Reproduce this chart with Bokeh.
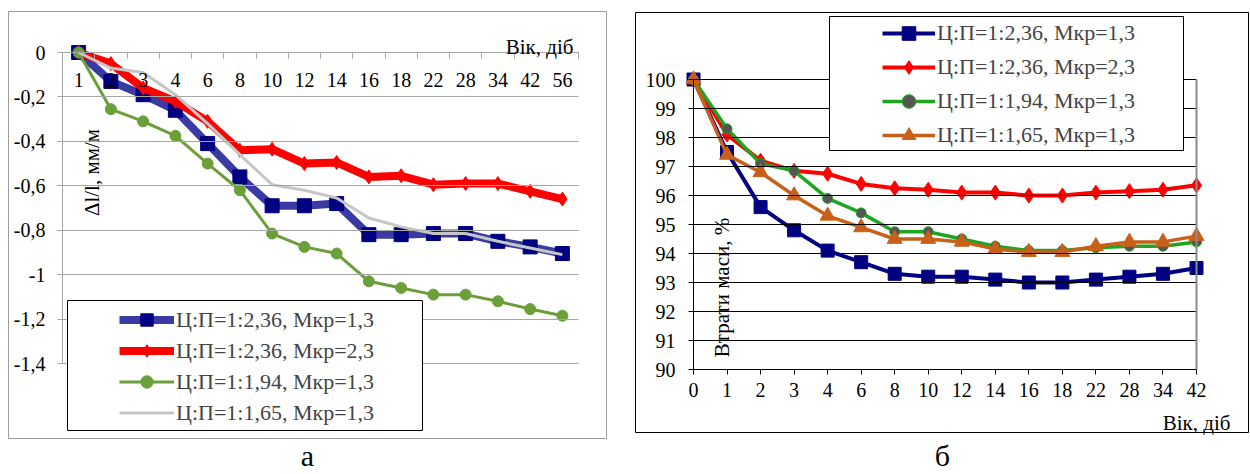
import math
import numpy as np
from bokeh.plotting import figure
from bokeh.layouts import row
from bokeh.models import (Range1d, FixedTicker, CustomJSTickFormatter, Legend, LegendItem,
                          BoxAnnotation, Label, LinearAxis)
from bokeh.core.properties import value
from bokeh.embed import file_html
from bokeh.resources import INLINE

FONT = "Liberation Serif, Times New Roman, serif"

# ---------------- data: panel а ----------------
cats_a = ["1", "2", "3", "4", "6", "8", "10", "12", "14", "16", "18", "22", "28", "34", "42", "56"]
a_blue = [0, -0.13, -0.19, -0.26, -0.41, -0.56, -0.69, -0.69, -0.68, -0.82, -0.82, -0.815, -0.815, -0.85, -0.875, -0.905]
a_red = [0, -0.05, -0.16, -0.22, -0.31, -0.44, -0.435, -0.50, -0.495, -0.56, -0.555, -0.595, -0.59, -0.59, -0.625, -0.66]
a_green = [0, -0.255, -0.31, -0.375, -0.50, -0.62, -0.815, -0.875, -0.905, -1.03, -1.06, -1.09, -1.09, -1.12, -1.155, -1.185]
a_gray = [0, -0.07, -0.09, -0.19, -0.32, -0.46, -0.595, -0.62, -0.655, -0.745, -0.785, -0.815, -0.815, -0.85, -0.88, -0.91]
ticks_a = [0.0, -0.2, -0.4, -0.6, -0.8, -1.0, -1.2, -1.4]

# ---------------- data: panel б ----------------
cats_b = ["0", "1", "2", "3", "4", "6", "8", "10", "12", "14", "16", "18", "22", "28", "34", "42"]
b_blue = [100, 97.5, 95.6, 94.8, 94.1, 93.7, 93.3, 93.2, 93.2, 93.1, 93.0, 93.0, 93.1, 93.2, 93.3, 93.5]
b_red = [100, 98.1, 97.2, 96.85, 96.75, 96.4, 96.25, 96.2, 96.1, 96.1, 96.0, 96.0, 96.1, 96.15, 96.2, 96.35]
b_green = [100, 98.3, 97.1, 96.85, 95.9, 95.4, 94.75, 94.75, 94.5, 94.25, 94.1, 94.1, 94.2, 94.25, 94.25, 94.4]
b_orange = [100, 97.4, 96.8, 96.0, 95.3, 94.9, 94.5, 94.5, 94.4, 94.15, 94.05, 94.05, 94.25, 94.4, 94.4, 94.6]
ticks_b = [90, 91, 92, 93, 94, 95, 96, 97, 98, 99, 100]

series_labels = ["Ц:П=1:2,36, Мкр=1,3", "Ц:П=1:2,36, Мкр=2,3",
                 "Ц:П=1:1,94, Мкр=1,3", "Ц:П=1:1,65, Мкр=1,3"]

H = 474

# ================= panel а =================
na = len(cats_a)
a_lo, a_hi = min(ticks_a), max(ticks_a)
AW = 620
A_BOX = (8, 11, 606, 438)          # chart-area border (page px)
A_PLOT = (62, 52, 578, 363)        # plot area: x of category block, y of 0 and -1.4


def ax(px):
    return (px - A_PLOT[0]) / (A_PLOT[2] - A_PLOT[0]) * na


def ay(py):
    return a_hi - (py - A_PLOT[1]) / (A_PLOT[3] - A_PLOT[1]) * (a_hi - a_lo)


p1 = figure(width=AW, height=H,
            x_range=Range1d(ax(0), ax(AW)), y_range=Range1d(ay(H), ay(0)),
            x_axis_location="above", y_axis_location="left", min_border=0,
            output_backend="svg", toolbar_location=None)
p1.outline_line_color = None
p1.background_fill_color = "white"
p1.border_fill_color = "white"
p1.xgrid.visible = False
p1.ygrid.visible = False

GRAYAX = "#a6a6a6"
xa = p1.xaxis[0]
xa.fixed_location = a_hi
xa.bounds = (0, na)
xa.ticker = FixedTicker(ticks=list(range(na + 1)))
xa.formatter = CustomJSTickFormatter(code="return ''")
xa.major_label_text_color = None
xa.axis_line_color = GRAYAX
xa.major_tick_line_color = GRAYAX
xa.major_tick_in = 6
xa.major_tick_out = 0
xa.minor_tick_line_color = None

ya = p1.yaxis[0]
ya.fixed_location = 0
ya.bounds = (a_lo, a_hi)
ya.ticker = FixedTicker(ticks=ticks_a)
ya.formatter = CustomJSTickFormatter(code="return (Math.round(tick*10)/10).toString().replace('.', ',')")
ya.axis_line_color = GRAYAX
ya.major_tick_line_color = GRAYAX
ya.major_tick_in = A_PLOT[2] - A_PLOT[0]   # ticks run across the plot as gridlines
ya.major_tick_out = 5
ya.minor_tick_line_color = None
ya.major_label_standoff = 12
ya.major_label_text_font = FONT
ya.major_label_text_font_size = "20px"
ya.major_label_text_color = "black"

# chart-area border
p1.add_layout(BoxAnnotation(left=ax(A_BOX[0]), right=ax(A_BOX[2]), top=ay(A_BOX[1]), bottom=ay(A_BOX[3]),
                            fill_color=None, fill_alpha=0, line_color="#9c9c9c", line_alpha=1, line_width=1,
                            level="underlay"))

xs_a = np.arange(na) + 0.5
l1 = p1.line(xs_a, a_blue, line_color="#3a3aa3", line_width=8, line_join="round")
m1 = p1.scatter(xs_a, a_blue, marker="square", size=14, fill_color="#000080", line_color="#000080")
l2 = p1.line(xs_a, a_red, line_color="#ff0000", line_width=8, line_join="round")
m2 = p1.scatter(xs_a, a_red, marker="diamond", size=14, fill_color="#ff0000", line_color="#ff0000")
l3 = p1.line(xs_a, a_green, line_color="#6b9f3a", line_width=3, line_join="round")
m3 = p1.scatter(xs_a, a_green, marker="circle", size=11, fill_color="#6b9f3a", line_color="#6b9f3a")
l4 = p1.line(xs_a, a_gray, line_color="#c6c6c6", line_width=3, line_join="round")

# category labels under the top axis
p1.text(x=xs_a, y=[ay(79)] * na, text=cats_a, text_font=value(FONT), text_font_size="20px",
        text_align="center", text_baseline="middle", text_color="black")

p1.add_layout(Label(x=ax(573), y=ay(46), text="Вік, діб", text_align="right", text_baseline="alphabetic",
                    text_font=FONT, text_font_size="21px", text_color="black"))
p1.add_layout(Label(x=ax(91), y=ay(172), text="Δl/l, мм/м", angle=math.pi / 2, text_align="center",
                    text_baseline="middle", text_font=FONT, text_font_size="21px", text_color="black"))
p1.add_layout(Label(x=ax(307), y=ay(455), text="а", text_align="center", text_baseline="middle",
                    text_font=FONT, text_font_size="30px", text_color="black"))

# legend box + legend
p1.add_layout(BoxAnnotation(left=ax(67), right=ax(422), top=ay(300), bottom=ay(430),
                            fill_color="white", fill_alpha=1, line_color="black", line_alpha=1, line_width=1))
leg1 = Legend(items=[LegendItem(label=series_labels[0], renderers=[l1, m1]),
                     LegendItem(label=series_labels[1], renderers=[l2, m2]),
                     LegendItem(label=series_labels[2], renderers=[l3, m3]),
                     LegendItem(label=series_labels[3], renderers=[l4])],
              location=(119, H - 428), padding=0, margin=0, spacing=0,
              glyph_width=55, glyph_height=31, label_height=31, label_standoff=2,
              label_text_font=FONT, label_text_font_size="22px",
              border_line_color=None, background_fill_color=None)
p1.add_layout(leg1)

# ================= panel б =================
nb = len(cats_b)
b_lo, b_hi = min(ticks_b), max(ticks_b)
BX0 = AW                                  # page x where panel б starts
BW = 630
B_BOX = (635, 12, 1248, 432)
B_PLOT = (693, 79, 1196, 369)


def bx(gx):
    return (gx - B_PLOT[0]) / (B_PLOT[2] - B_PLOT[0]) * (nb - 1)


def by(py):
    return b_hi - (py - B_PLOT[1]) / (B_PLOT[3] - B_PLOT[1]) * (b_hi - b_lo)


p2 = figure(width=BW, height=H,
            x_range=Range1d(bx(BX0), bx(BX0 + BW)), y_range=Range1d(by(H), by(0)),
            x_axis_location="below", y_axis_location="left", min_border=0,
            output_backend="svg", toolbar_location=None)
p2.outline_line_color = None
p2.background_fill_color = "white"
p2.border_fill_color = "white"
p2.xgrid.visible = False
p2.ygrid.visible = False

xb = p2.xaxis[0]
xb.fixed_location = b_lo
xb.bounds = (0, nb - 1)
xb.ticker = FixedTicker(ticks=list(range(nb)))
xb.major_label_overrides = {i: c for i, c in enumerate(cats_b)}
xb.axis_line_color = "black"
xb.major_tick_line_color = "black"
xb.major_tick_in = 0
xb.major_tick_out = 5
xb.minor_tick_line_color = None
xb.major_label_standoff = 8
xb.major_label_text_font = FONT
xb.major_label_text_font_size = "20px"
xb.major_label_text_color = "black"

yb = p2.yaxis[0]
yb.fixed_location = 0
yb.bounds = (b_lo, b_hi)
yb.ticker = FixedTicker(ticks=ticks_b)
yb.axis_line_color = "black"
yb.major_tick_line_color = "black"
yb.major_tick_in = B_PLOT[2] - B_PLOT[0]   # ticks run across the plot as gridlines
yb.major_tick_out = 5
yb.minor_tick_line_color = None
yb.major_label_standoff = 13
yb.major_label_text_font = FONT
yb.major_label_text_font_size = "20px"
yb.major_label_text_color = "black"

# grey right edge of the plot area
edge = LinearAxis(fixed_location=nb - 1, bounds=(b_lo, b_hi), ticker=FixedTicker(ticks=[]),
                  axis_line_color="#8c8c8c", axis_line_width=2,
                  major_tick_line_color=None, minor_tick_line_color=None,
                  major_label_text_color=None)
p2.add_layout(edge, "right")

# chart-area border
p2.add_layout(BoxAnnotation(left=bx(B_BOX[0]), right=bx(B_BOX[2]), top=by(B_BOX[1]), bottom=by(B_BOX[3]),
                            fill_color=None, fill_alpha=0, line_color="black", line_alpha=1, line_width=1,
                            level="underlay"))

xs_b = np.arange(nb)
k1 = p2.line(xs_b, b_blue, line_color="#000080", line_width=4, line_join="round")
n1 = p2.scatter(xs_b, b_blue, marker="square", size=13, fill_color="#000080", line_color="#000080")
k2 = p2.line(xs_b, b_red, line_color="#ff0000", line_width=4, line_join="round")
n2 = p2.scatter(xs_b, b_red, marker="diamond", size=15, fill_color="#ff0000", line_color="#ff0000")
k3 = p2.line(xs_b, b_green, line_color="#1fa51f", line_width=3.5, line_join="round")
n3 = p2.scatter(xs_b, b_green, marker="circle", size=10, fill_color="#555555", line_color="#1fa51f")
k4 = p2.line(xs_b, b_orange, line_color="#c8601a", line_width=3.5, line_join="round")
n4 = p2.scatter(xs_b, b_orange, marker="triangle", size=15, fill_color="#c8601a", line_color="#c8601a")

p2.add_layout(Label(x=bx(1230), y=by(422), text="Вік, діб", text_align="right", text_baseline="alphabetic",
                    text_font=FONT, text_font_size="21px", text_color="black"))
p2.add_layout(Label(x=bx(721), y=by(287), text="Втрати маси, %", angle=math.pi / 2, text_align="center",
                    text_baseline="middle", text_font=FONT, text_font_size="21px", text_color="black"))
p2.add_layout(Label(x=bx(942), y=by(455), text="б", text_align="center", text_baseline="middle",
                    text_font=FONT, text_font_size="30px", text_color="black"))

p2.add_layout(BoxAnnotation(left=bx(829), right=bx(1183), top=by(16), bottom=by(150),
                            fill_color="white", fill_alpha=1, line_color="black", line_alpha=1, line_width=1))
leg2 = Legend(items=[LegendItem(label=series_labels[0], renderers=[k1, n1]),
                     LegendItem(label=series_labels[1], renderers=[k2, n2]),
                     LegendItem(label=series_labels[2], renderers=[k3, n3]),
                     LegendItem(label=series_labels[3], renderers=[k4, n4])],
              location=(882 - BX0, H - 152), padding=0, margin=0, spacing=0,
              glyph_width=53, glyph_height=34, label_height=34, label_standoff=2,
              label_text_font=FONT, label_text_font_size="22px",
              border_line_color=None, background_fill_color=None)
p2.add_layout(leg2)

layout = row(p1, p2)
open("out.html", "w").write(file_html(layout, INLINE))
